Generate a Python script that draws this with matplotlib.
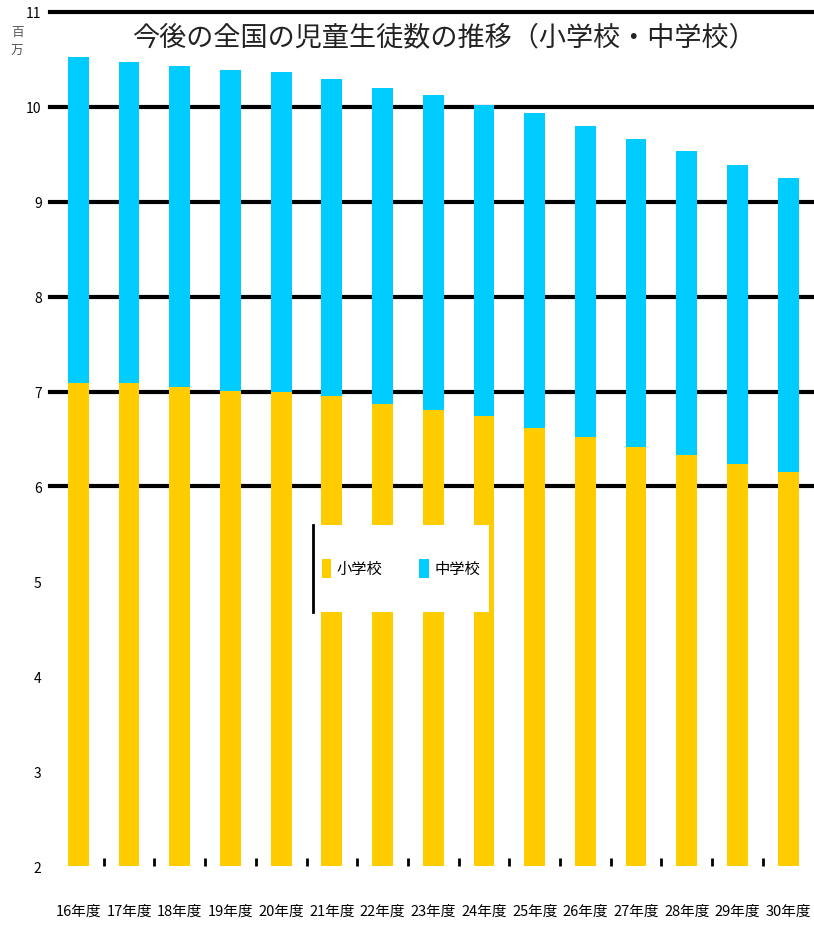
#!/usr/bin/env python3
"""今後の全国の児童生徒数の推移 (小学校・中学校) — stacked bars, 平成16〜30年度."""
import matplotlib
matplotlib.use("Agg")
import matplotlib.pyplot as plt
from matplotlib.patches import Rectangle

plt.rcParams["font.family"] = ["Noto Sans CJK JP", "DejaVu Sans"]

# --------------------------------------------------------------------------- #
# Data (millions of pupils)
# --------------------------------------------------------------------------- #
years = ["16年度", "17年度", "18年度", "19年度", "20年度", "21年度", "22年度", "23年度",
         "24年度", "25年度", "26年度", "27年度", "28年度", "29年度", "30年度"]
elementary = [7.09, 7.09, 7.05, 7.01, 7.00, 6.95, 6.87, 6.81,
              6.74, 6.62, 6.52, 6.42, 6.33, 6.24, 6.15]
junior = [3.44, 3.38, 3.38, 3.38, 3.37, 3.34, 3.33, 3.31,
          3.28, 3.32, 3.28, 3.24, 3.20, 3.15, 3.10]
y_ticks = [2, 3, 4, 5, 6, 7, 8, 9, 10, 11]
grid_levels = [6, 7, 8, 9, 10, 11]

YELLOW = "#ffcc00"
BLUE = "#00ccff"

fig = plt.figure(figsize=(8.14, 9.28), dpi=100)
ax = fig.add_axes([0.0614, 0.0657, 0.9386, 0.9203])

x = list(range(len(years)))
base = 2.0
ax.bar(x, [e - base for e in elementary], bottom=base, width=0.41,
       color=YELLOW, label="小学校", zorder=3)
ax.bar(x, junior, bottom=elementary, width=0.41, color=BLUE, label="中学校", zorder=3)

for lvl in grid_levels:
    ax.axhline(lvl, color="black", linewidth=3.0, zorder=1, clip_on=False)

ax.set_xlim(-0.56, 14.51)
ax.set_ylim(2, 11)
for s in ax.spines.values():
    s.set_visible(False)

ax.set_yticks(y_ticks)
ax.set_yticklabels([str(t) for t in y_ticks])
ax.tick_params(axis="y", length=0, pad=6, labelsize=10)

ax.set_xticks(x)
ax.set_xticklabels(years)
ax.tick_params(axis="x", which="major", length=0, pad=27, labelsize=10.5)
ax.set_xticks([i + 0.5 for i in x[:-1]], minor=True)
ax.tick_params(axis="x", which="minor", direction="in", length=6, width=2, color="black")

# unit label, stacked vertically in the corner
fig.text(0.021, 0.955, "百\n万", fontsize=9, color="#555555", ha="center", va="center",
         linespacing=1.6)

ax.text(0.516, 0.971, "今後の全国の児童生徒数の推移（小学校・中学校）",
        transform=ax.transAxes, ha="center", va="center", fontsize=19.5, color="#222222")

# legend sits in a white box over the bars
box = (0.344, 0.298, 0.231, 0.101)
ax.add_patch(Rectangle(box[:2], box[2], box[3], transform=ax.transAxes,
                       facecolor="white", edgecolor="none", zorder=5))
ax.plot([box[0], box[0]], [box[1], box[1] + box[3]], transform=ax.transAxes,
        color="black", linewidth=2, zorder=6)
leg = ax.legend(loc="center", bbox_to_anchor=(box[0] + box[2] / 2, box[1] + box[3] / 2),
                ncol=2, frameon=False, fontsize=11, handlelength=0.6, handleheight=1.6,
                handletextpad=0.4, columnspacing=2.4)
leg.set_zorder(7)

fig.savefig("out.png", dpi=100, facecolor="white")
